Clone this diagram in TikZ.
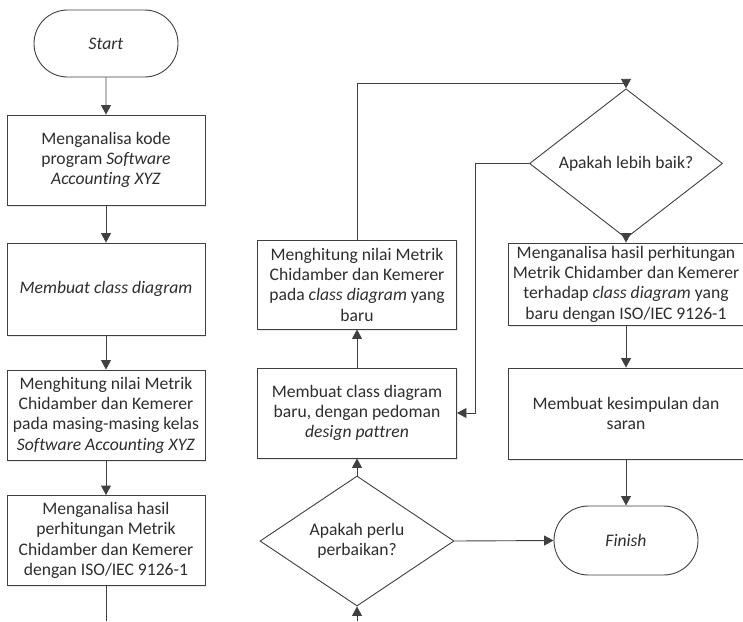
\documentclass[tikz,border=0pt]{standalone}
\usepackage{fontspec}
\setmainfont{Carlito}[Ligatures=NoCommon]
\usetikzlibrary{shapes.misc,shapes.geometric,arrows.meta,shadows}

\definecolor{ink}{HTML}{2E2E2E}
\definecolor{edge}{HTML}{404040}

\tikzset{
  base/.style={draw=edge, line width=0.9pt, fill=white, text=ink, align=center,
    font=\fontsize{17.6}{20.3}\selectfont, inner sep=2pt},
  stepbox/.style={base, rectangle,
    drop shadow={shadow xshift=1.2pt, shadow yshift=-1.5pt, opacity=0.18}},
  terminal/.style={base, rounded rectangle, minimum width=148pt, minimum height=67pt},
  decision/.style={base, diamond, inner sep=0pt},
  arr/.style={draw=edge, line width=0.9pt, -{Triangle[length=9.5pt,width=10pt]}},
  link/.style={draw=edge, line width=0.9pt}
}

\begin{document}
\begin{tikzpicture}[x=1pt,y=-1pt]
\useasboundingbox (0,0) rectangle (743,621);
\clip (0,0) rectangle (743,621);

% left column
\node[terminal] (start) at (106,43.5) {\itshape Start};
\node[stepbox, minimum width=198pt, minimum height=90pt] (b1) at (106,160)
  {Menganalisa kode\\program \textit{Software}\\\textit{Accounting XYZ}};
\node[stepbox, minimum width=198pt, minimum height=92pt] (b2) at (106,289)
  {\itshape Membuat class diagram};
\node[stepbox, minimum width=198pt, minimum height=90pt] (b3) at (106,415)
  {Menghitung nilai Metrik\\Chidamber dan Kemerer\\pada masing-masing kelas\\\textit{Software Accounting XYZ}};
\node[stepbox, minimum width=198pt, minimum height=90pt] (b4) at (106,540.5)
  {Menganalisa hasil\\perhitungan Metrik\\Chidamber dan Kemerer\\dengan ISO/IEC 9126-1};
\coordinate (outL) at (106,621);

% middle column
\node[stepbox, minimum width=199pt, minimum height=89pt] (m1) at (357,284.5)
  {Menghitung nilai Metrik\\Chidamber dan Kemerer\\pada \textit{class diagram} yang\\baru};
\node[stepbox, minimum width=199pt, minimum height=90pt] (m2) at (357,413)
  {Membuat class diagram\\baru, dengan pedoman\\\textit{design pattren}};
\node[decision, minimum width=194pt, minimum height=88pt] (d1) at (357,541)
  {Apakah perlu\\perbaikan?};
\coordinate (inM) at (357,621);

% right column
\node[decision, minimum width=193pt, minimum height=83pt] (d2) at (626,163.5)
  {Apakah lebih baik?};
\node[stepbox, minimum width=236pt, minimum height=82pt] (r1) at (626,284)
  {Menganalisa hasil perhitungan\\Metrik Chidamber dan Kemerer\\terhadap \textit{class diagram} yang\\baru dengan ISO/IEC 9126-1};
\node[stepbox, minimum width=236pt, minimum height=91pt] (r2) at (626,413.5)
  {Membuat kesimpulan dan\\saran};
\node[terminal, minimum height=69pt] (finish) at (626,540.5) {\itshape Finish};

% connectors
\draw[arr] (start) -- (b1);
\draw[arr] (b1) -- (b2);
\draw[arr] (b2) -- (b3);
\draw[arr] (b3) -- (b4);
\draw[link] (b4) -- (outL);

\draw[arr] (inM) -- (d1);
\draw[arr] (d1) -- (m2);
\draw[arr] (m2) -- (m1);
\coordinate (top) at (357,83);
\draw[arr] (m1.north) -- (top) -| (d2.north);
\coordinate (back) at (475,163.5);
\draw[arr] (d2.west) -- (back) |- (m2.east);
\draw[arr] (d2) -- (r1);
\draw[arr] (r1) -- (r2);
\draw[arr] (r2) -- (finish);
\draw[arr] (d1.east) -- (finish.west);
\end{tikzpicture}
\end{document}
